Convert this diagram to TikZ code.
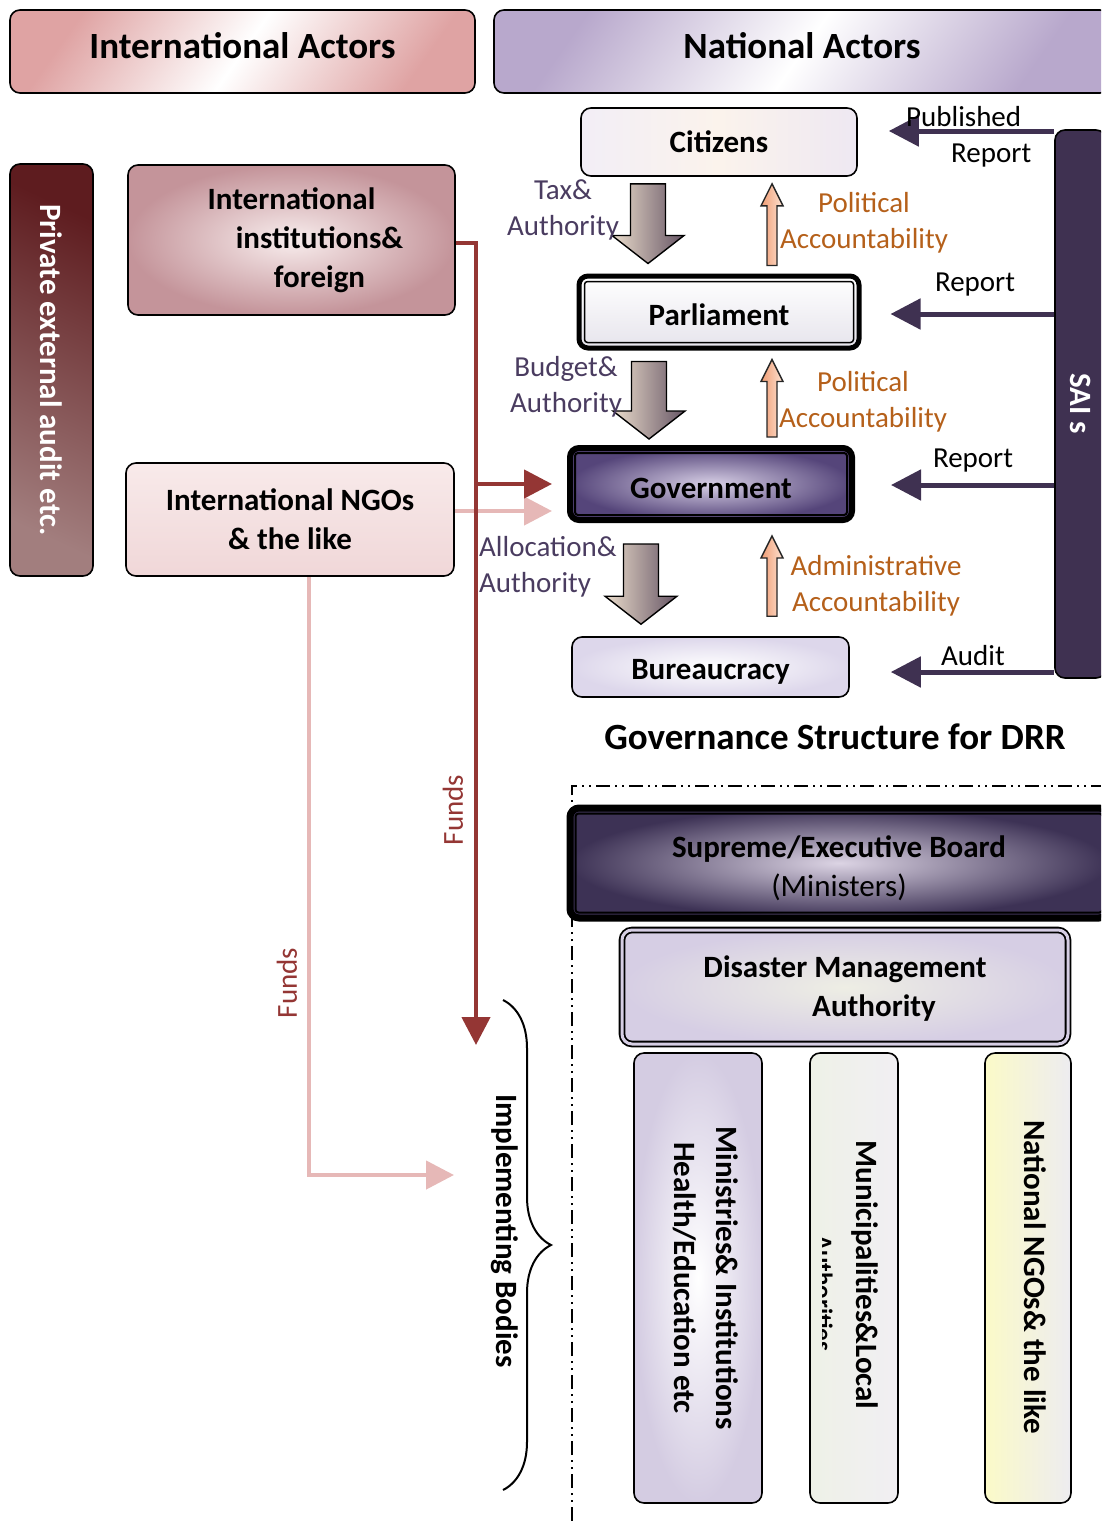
\documentclass[tikz,border=0pt]{standalone}
\usepackage{fontspec}
\setmainfont{Carlito}
\usepackage{graphicx}
\usetikzlibrary{arrows.meta,calc,decorations.pathreplacing}

% palette
\definecolor{fundred}{HTML}{943634}
\definecolor{fundpink}{HTML}{E6B8B7}
\definecolor{saiplum}{HTML}{3F3151}
\definecolor{lblplum}{HTML}{4A3C60}
\definecolor{accbrown}{HTML}{B5601A}
\definecolor{hdpink}{HTML}{DFA3A3}
\definecolor{hdlilac}{HTML}{B8A8CC}
\definecolor{auditdark}{HTML}{5E1C1F}
\definecolor{auditlight}{HTML}{A27E7E}
\definecolor{iifin}{HTML}{F8EDED}
\definecolor{iifout}{HTML}{C4949A}
\definecolor{ingtop}{HTML}{F8EAEA}
\definecolor{ingbot}{HTML}{F0D7D8}
\definecolor{citL}{HTML}{F2EEF6}
\definecolor{citM}{HTML}{FBF3EC}
\definecolor{citR}{HTML}{EEE8F2}
\definecolor{parB}{HTML}{E6E4EC}
\definecolor{govin}{HTML}{D8D0E6}
\definecolor{govout}{HTML}{55457A}
\definecolor{burout}{HTML}{DDD7EB}
\definecolor{supin}{HTML}{DCD4E4}
\definecolor{supout}{HTML}{3D3255}
\definecolor{dmain}{HTML}{EEEEE4}
\definecolor{dmaout}{HTML}{D6CEE4}
\definecolor{minout}{HTML}{D4CCE2}
\definecolor{munL}{HTML}{EEF1E7}
\definecolor{munR}{HTML}{F1EFF3}
\definecolor{ngoL}{HTML}{FBFAC8}
\definecolor{ngoR}{HTML}{EDECF0}
\definecolor{blockL}{HTML}{EADCCB}
\definecolor{blockR}{HTML}{665565}
\definecolor{upL}{HTML}{F09C73}
\definecolor{upR}{HTML}{FDE2D2}

\newcommand\hdfont{\fontsize{37}{44}\selectfont\bfseries}
\newcommand\bxfont{\fontsize{31}{39}\selectfont\bfseries}
\newcommand\lbfont{\fontsize{29}{36}\selectfont}

\tikzset{
  box/.style={draw=black, line width=1.6pt, rounded corners=10pt, align=center,
    font=\bxfont, inner sep=0pt},
  heavybox/.style={box, line width=5pt, rounded corners=9pt},
  innerline/.style={draw=black, line width=1.5pt, rounded corners=3pt},
  header/.style={box, font=\hdfont, minimum height=83pt, text height=26pt, text depth=13pt,
    middle color=white, shading angle=55},
  lbl/.style={font=\lbfont, align=center, inner sep=0pt},
  boxtext/.style={font=\bxfont, align=center, inner sep=0pt},
  sairep/.style={draw=saiplum, line width=5pt, -{Triangle[length=30pt,width=30pt]}},
  fundsdark/.style={draw=fundred, line width=4.5pt},
  fundslight/.style={draw=fundpink, line width=4.5pt},
  fundtip/.style={-{Triangle[length=28pt,width=28pt]}},
  blockfill/.style={draw=black, line width=1.4pt, line join=miter,
    left color=blockL, right color=blockR},
  upfill/.style={draw=black!85, line width=1.4pt, line join=miter,
    left color=upL, right color=upR},
}

% wide downward block arrow from #1 (top of shaft) to #2 (tip)
\newcommand\blockarrow[2]{%
  \coordinate (ba-t) at (#1);
  \coordinate (ba-p) at (#2);
  \path[blockfill] ($(ba-t)+(-17.5,0)$) -- ($(ba-t)+(17.5,0)$)
    -- ($(ba-p)+(17.5,-28)$) -- ($(ba-p)+(36,-28)$) -- (ba-p)
    -- ($(ba-p)+(-36,-28)$) -- ($(ba-p)+(-17.5,-28)$) -- cycle;}
% slim upward arrow from #1 (tail) to #2 (tip)
\newcommand\slimarrow[2]{%
  \coordinate (sa-b) at (#1);
  \coordinate (sa-p) at (#2);
  \path[upfill] ($(sa-b)+(-5,0)$) -- ($(sa-p)+(-5,22)$) -- ($(sa-p)+(-11,22)$)
    -- (sa-p) -- ($(sa-p)+(11,22)$) -- ($(sa-p)+(5,22)$) -- ($(sa-b)+(5,0)$) -- cycle;}

\begin{document}
\begin{tikzpicture}[x=1pt,y=-1pt]
\useasboundingbox (0,0) rectangle (1101,1521);
\clip (0,0) rectangle (1101,1521);

% ---- headers
\node[header, minimum width=465pt, top color=hdpink, bottom color=hdpink,
  middle color=white, shading angle=55] (hdl) at (242.5,51.5) {International Actors};
\node[header, minimum width=616pt, top color=hdlilac, bottom color=hdlilac,
  middle color=white, shading angle=55] (hdr) at (802,51.5) {National Actors};

% ---- international side
\node[box, minimum width=83pt, minimum height=412pt, top color=auditdark,
  bottom color=auditlight, shading angle=-25, text=white]
  (pea) at (51.5,370) {\rotatebox{-90}{Private external audit etc.}};
\node[box, minimum width=327pt, minimum height=150pt, inner color=iifin, outer color=iifout]
  (iif) at (291.5,240) {International\\\hspace*{56pt}institutions\&\\\hspace*{56pt}foreign};
\node[box, minimum width=328pt, minimum height=113pt, top color=ingtop, bottom color=ingbot]
  (ing) at (290,519.5) {International NGOs\\\& the like};

% ---- national chain
\node[box, minimum width=276pt, minimum height=68pt, left color=citL, right color=citR,
  middle color=citM] (cit) at (719,142) {Citizens};
\node[heavybox, minimum width=280pt, minimum height=72pt, top color=white, bottom color=parB,
  text height=28pt, text depth=2pt] (par) at (719,312) {Parliament};
\draw[innerline] ($(par.north west)+(8,8)$) rectangle ($(par.south east)+(-8,-8)$);
\node[heavybox, line width=6pt, minimum width=282pt, minimum height=72pt,
  inner color=govin, outer color=govout, text height=28pt, text depth=0pt]
  (gov) at (711,484) {Government};
\draw[innerline, line width=2pt] ($(gov.north west)+(8,8)$) rectangle ($(gov.south east)+(-8,-8)$);
\node[box, minimum width=277pt, minimum height=60pt, inner color=white, outer color=burout,
  text height=28pt, text depth=4pt] (bur) at (710.5,667) {Bureaucracy};

\node[box, minimum width=51pt, minimum height=548pt, fill=saiplum, text=white]
  (sai) at (1080.5,404) {\rotatebox{-90}{SAI s}};

% ---- flows between the national actors
\blockarrow{$(648,0 |- cit.south)+(0,7)$}{$(648,0 |- par.north)+(0,-10)$}
\blockarrow{$(649,0 |- par.south)+(0,11)$}{$(649,0 |- gov.north)+(0,-6)$}
\blockarrow{$(641,0 |- gov.south)+(0,21)$}{$(641,0 |- bur.north)+(0,-12)$}
\slimarrow{$(772,0 |- par.north)+(0,-8)$}{$(772,0 |- cit.south)+(0,7)$}
\slimarrow{$(772,0 |- gov.north)+(0,-8)$}{$(772,0 |- par.south)+(0,9)$}
\slimarrow{$(772,0 |- bur.north)+(0,-20)$}{$(772,0 |- gov.south)+(0,13)$}

\node[lbl, text=lblplum] (lt1) at (563,210) {Tax\&\\Authority};
\node[lbl, text=lblplum] (lt2) at (566,387) {Budget\&\\Authority};
\node[lbl, text=lblplum, align=left, anchor=west] (lt3) at (479,567) {Allocation\&\\Authority};
\node[lbl, text=accbrown] (la1) at (864,223) {Political\\Accountability};
\node[lbl, text=accbrown] (la2) at (863,402) {Political\\Accountability};
\node[lbl, text=accbrown] (la3) at (876,586) {Administrative\\Accountability};

% ---- audit reports from the SAI
\draw[sairep] (sai.west |- 0,131) -- ($(cit.east)+(31,-11)$);
\draw[sairep] (sai.west |- 0,314) -- ($(par.east)+(29,2)$);
\draw[sairep] (sai.west |- 0,485) -- ($(gov.east)+(36,1)$);
\draw[sairep] (sai.west |- 0,672) -- ($(bur.east)+(41,5)$);
\node[lbl, align=left, anchor=west] (lr0) at (906,137) {Published\\\hspace*{45pt}Report};
\node[lbl] (lr1) at (975,285) {Report};
\node[lbl] (lr2) at (973,461) {Report};
\node[lbl] (lr3) at (973,656) {Audit};

\node[font=\hdfont] (ttl) at (835,737) {Governance Structure for DRR};

% ---- DRR structure
\draw[line width=1.5pt, dash pattern=on 14pt off 5pt on 2pt off 5pt on 2pt off 5pt]
  (572,1521) -- (572,786) -- (1101,786);
\node[heavybox, line width=7pt, minimum width=538pt, minimum height=110pt,
  inner color=supin, outer color=supout] (sup) at (839,863) {};
\draw[innerline, line width=2pt] ($(sup.north west)+(9,9)$) rectangle ($(sup.south east)+(-9,-9)$);
\node[boxtext] (supt) at (839,868) {Supreme/Executive Board\\{\mdseries (Ministers)}};
\node[box, line width=1.8pt, double=dmaout, double distance=3pt, minimum width=446pt,
  minimum height=114pt, inner color=dmain, outer color=dmaout] (dma) at (845,987) {};
\node[boxtext] (dmat) at (845,989) {Disaster Management\\\hspace*{58pt}Authority};

\node[box, minimum width=128pt, minimum height=450pt, inner color=white, outer color=minout]
  (min) at (698,1278) {};
\node[boxtext, rotate=-90] (mint) at (706,1278) {Ministries\& Institutions\\[3pt]Health/Education etc};
\node[box, minimum width=88pt, minimum height=450pt, left color=munL, right color=munR]
  (mun) at (854,1278) {};
\node[boxtext, rotate=-90] (munt) at (865,1275) {Municipalities\&Local};
\begin{scope}
  \clip (822,1200) rectangle (848,1400);
  \node[font=\fontsize{25}{30}\selectfont\bfseries, rotate=-90, anchor=base west, inner sep=0pt]
    (munt2) at (815,1235) {Authorities};
\end{scope}
\node[box, minimum width=86pt, minimum height=450pt, left color=ngoL, right color=ngoR]
  (nng) at (1028,1278) {};
\node[boxtext, rotate=-90] (nngt) at (1035,1277) {National NGOs\& the like};

\node[boxtext, rotate=-90] (impl) at (505,1231) {Implementing Bodies};
\draw[line width=2pt, decorate, decoration={brace, amplitude=48pt, aspect=0.5}]
  (503,1000) -- (503,1490);

% ---- funding flows
\coordinate (ftop) at ($(iif.east)+(0,3)$);
\coordinate (fdown) at (476,1045);
\coordinate (fmid) at (454,1175);
\draw[fundslight, fundtip] ($(ing.east)+(0,-8.5)$) -- ($(gov.west)+(-15,27)$);
\draw[fundslight, fundtip] ($(ing.south)+(19,0)$) |- (fmid);
\draw[fundsdark, fundtip] (ftop) -| (fdown);
\draw[fundsdark, fundtip] (fdown |- gov.west) -- ($(gov.west)+(-15,0)$);
\node[lbl, text=fundred, rotate=90] (fl1) at (453,810) {Funds};
\node[lbl, text=fundred, rotate=90] (fl2) at (287,983) {Funds};
\end{tikzpicture}
\end{document}
